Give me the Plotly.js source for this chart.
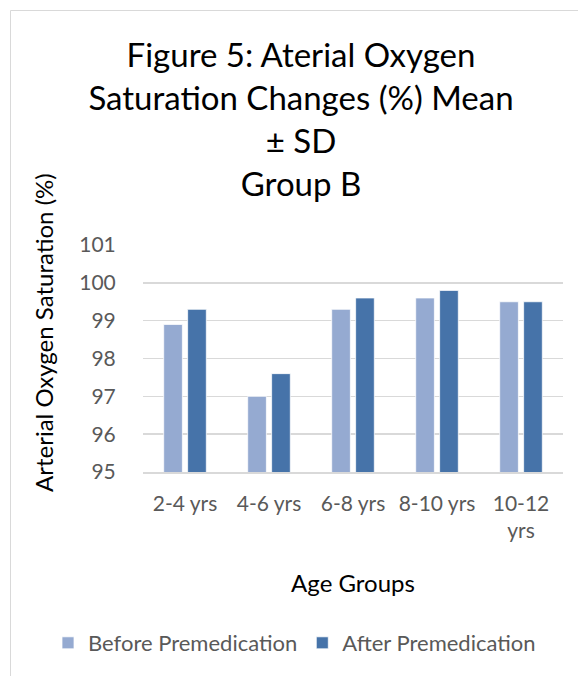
<!DOCTYPE html>
<html>
<head>
<meta charset="utf-8">
<script src="https://cdn.plot.ly/plotly-3.0.1.min.js"></script>
<style>
  html, body { margin: 0; padding: 0; background: #ffffff; }
  #chart { width: 578px; height: 676px; }
</style>
</head>
<body>
<div id="chart"></div>
<script>
// Age groups on the x axis (the last label wraps onto two lines)
const ageGroups = ['2-4 yrs', '4-6 yrs', '6-8 yrs', '8-10 yrs', '10-12<br>yrs'];

// Mean arterial oxygen saturation (%) per age group
const beforePremedication = [98.9, 97.0, 99.3, 99.6, 99.5];
const afterPremedication  = [99.3, 97.6, 99.6, 99.8, 99.5];

const seriesNames = ['Before Premedication', 'After Premedication'];

const FONT = 'Lato, "Open Sans", sans-serif';

// plot area in pixels: x 143..563, y 245..472
const L = 143, R = 563, T = 245, B = 472;
const px = x => (x - L) / (R - L);
const py = y => (B - y) / (B - T);

const traces = [
  {
    type: 'bar',
    name: seriesNames[0],
    x: ageGroups,
    y: beforePremedication,
    marker: { color: '#95AAD1', line: { color: '#ffffff', width: 0.75 } },
    hoverinfo: 'x+y+name'
  },
  {
    type: 'bar',
    name: seriesNames[1],
    x: ageGroups,
    y: afterPremedication,
    marker: { color: '#4673A9', line: { color: '#ffffff', width: 0.75 } },
    hoverinfo: 'x+y+name'
  }
];

const layout = {
  width: 578,
  height: 676,
  paper_bgcolor: '#ffffff',
  plot_bgcolor: '#ffffff',
  margin: { l: L, r: 578 - R, t: T, b: 676 - B, pad: 0 },
  font: { family: FONT, color: '#595959' },
  barmode: 'group',
  bargap: 0.43,
  bargroupgap: 0.22,
  title: {
    text: 'Figure 5: Aterial Oxygen<br>Saturation Changes (%) Mean<br>± SD<br>Group B',
    font: { family: FONT, size: 33, color: '#000000' },
    x: 301 / 578,
    xanchor: 'center',
    xref: 'container',
    y: 1 - 67 / 676,
    yanchor: 'top',
    yref: 'container'
  },
  xaxis: {
    type: 'category',
    showgrid: false,
    showline: true,
    linecolor: '#D9D9D9',
    linewidth: 1.5,
    ticks: 'outside',
    ticklen: 12,
    tickcolor: 'rgba(0,0,0,0)',
    tickfont: { family: FONT, size: 21, color: '#595959' },
    title: {
      text: 'Age Groups',
      font: { family: FONT, size: 24, color: '#000000' },
      standoff: 34
    },
    fixedrange: true
  },
  yaxis: {
    range: [95, 101],
    dtick: 1,
    tick0: 95,
    showgrid: true,
    gridcolor: '#D9D9D9',
    gridwidth: 1.5,
    zeroline: false,
    showline: false,
    ticks: 'outside',
    ticklen: 22,
    tickcolor: 'rgba(0,0,0,0)',
    tickfont: { family: FONT, size: 21, color: '#595959' },
    fixedrange: true
  },
  showlegend: true,
  legend: {
    orientation: 'h',
    x: px(48),
    xanchor: 'left',
    y: py(643),
    yanchor: 'middle',
    font: { family: FONT, size: 22, color: '#595959' },
    bgcolor: 'rgba(0,0,0,0)',
    traceorder: 'normal',
    itemclick: false,
    itemdoubleclick: false
  },
  annotations: [
    {
      text: 'Arterial Oxygen Saturation (%)',
      textangle: -90,
      xref: 'paper', yref: 'paper',
      x: px(43), y: py(333),
      xanchor: 'center', yanchor: 'middle',
      showarrow: false,
      font: { family: FONT, size: 24, color: '#000000' }
    }
  ],
  shapes: [
    {
      type: 'rect',
      xref: 'paper', yref: 'paper',
      x0: px(10.5), x1: px(600),
      y0: py(700), y1: py(10.5),
      line: { color: '#D9D9D9', width: 1 },
      fillcolor: 'rgba(0,0,0,0)',
      layer: 'below'
    }
  ]
};

Plotly.newPlot('chart', traces, layout, { displayModeBar: false, staticPlot: true });
</script>
</body>
</html>
